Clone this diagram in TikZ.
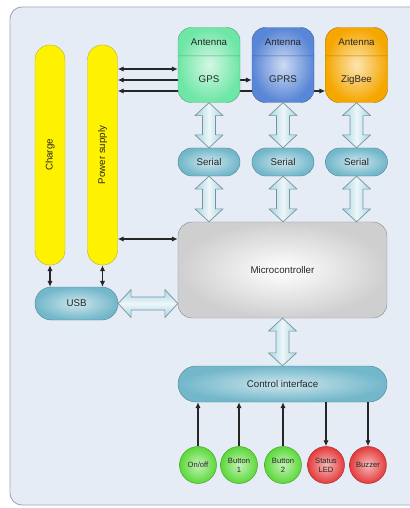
\documentclass[tikz,border=0pt]{standalone}
\usepackage{fontspec}
\setmainfont{Liberation Sans}
\usepackage{graphicx}
\usetikzlibrary{shapes.multipart,shapes.misc,arrows.meta,calc,backgrounds}

\definecolor{panelfill}{HTML}{E6ECF6}
\definecolor{paneldraw}{HTML}{A0A8B6}
\definecolor{gpsgreen}{HTML}{6EE6A6}
\definecolor{gprsblue}{HTML}{5986D6}
\definecolor{zigorange}{HTML}{F5A700}
\definecolor{pillblue}{HTML}{72B7CA}
\definecolor{mcugray}{HTML}{CFCFCF}
\definecolor{ledgreen}{HTML}{5AD838}
\definecolor{ledred}{HTML}{E43A3A}
\definecolor{fatedge}{HTML}{A6D4E2}

\newcommand{\antenna}{\rule[-9pt]{0pt}{23.9pt}Antenna}
\newcommand{\radioname}[1]{\rule[-16.7pt]{0pt}{39.3pt}#1}
\newcommand{\fatarrow}[3][vshade]{%
  \coordinate (fa-s) at (#2);
  \coordinate (fa-e) at (#3);
  \coordinate (fa-s1) at ($(fa-s)!11pt!(fa-e)$);
  \coordinate (fa-e1) at ($(fa-e)!11pt!(fa-s)$);
  \draw[hollow,#1] (fa-s) -- ($(fa-s1)!12pt!90:(fa-e)$) -- ($(fa-s1)!5.5pt!90:(fa-e)$)
    -- ($(fa-e1)!5.5pt!-90:(fa-s)$) -- ($(fa-e1)!12pt!-90:(fa-s)$) -- (fa-e)
    -- ($(fa-e1)!12pt!90:(fa-s)$) -- ($(fa-e1)!5.5pt!90:(fa-s)$)
    -- ($(fa-s1)!5.5pt!-90:(fa-e)$) -- ($(fa-s1)!12pt!-90:(fa-e)$) -- cycle;}

\tikzset{
  every node/.style={font=\fontsize{8.3}{10}\selectfont, text=black!85},
  panel/.style={draw=paneldraw, fill=panelfill, rounded corners=0.36cm, line width=0.8pt},
  rail/.style={draw=yellow!70!black, fill=yellow, rounded corners=0.44cm,
    minimum width=0.9cm, minimum height=6.6cm, inner sep=0pt},
  radio/.style={rectangle split, rectangle split parts=2, draw=#1!75!black,
    rounded corners=0.4cm, minimum width=1.86cm, inner xsep=2pt, inner ysep=0pt,
    inner color=#1!30!white, outer color=#1},
  pill/.style={rounded rectangle, draw=pillblue!75!black, inner color=pillblue!35!white,
    outer color=pillblue, inner sep=0pt, minimum height=#1},
  mcubox/.style={draw=mcugray!70!black, inner color=white, outer color=mcugray,
    rounded corners=0.42cm, minimum width=6.27cm, minimum height=2.88cm},
  led/.style={circle, draw=#1!75!black, inner color=#1!35!white, outer color=#1,
    minimum size=1.11cm, inner sep=0pt, align=center, font=\fontsize{6.5}{7.5}\selectfont},
  link/.style={{Latex[length=5pt,width=4.5pt]}-{Latex[length=5pt,width=4.5pt]},
    line width=0.9pt, black!85},
  uplink/.style={-{Latex[length=5pt,width=4.5pt]}, line width=0.9pt, black!85},
  hollow/.style={draw=fatedge!70!black, line width=0.6pt, line join=round},
  vshade/.style={left color=fatedge, right color=fatedge, middle color=white!80!fatedge},
  hshade/.style={top color=fatedge, bottom color=fatedge, middle color=white!80!fatedge},
}

\begin{document}
\begin{tikzpicture}[x=0.03cm,y=-0.03cm]
  \useasboundingbox (0,0) rectangle (409,508);
  \node[rail] (charge) at (50,155) {\rotatebox{90}{Charge}};
  \node[rail] (ps) at (102.5,155) {\rotatebox{90}{Power supply}};
  \node[radio=gpsgreen] (gps) at (209,65) {\antenna\nodepart{two}\radioname{GPS}};
  \node[radio=gprsblue] (gprs) at (283,65) {\antenna\nodepart{two}\radioname{GPRS}};
  \node[radio=zigorange] (zigbee) at (356.5,65) {\antenna\nodepart{two}\radioname{ZigBee}};
  \node[pill=0.84cm, minimum width=1.86cm] (sergps) at (209,162) {Serial};
  \node[pill=0.84cm, minimum width=1.86cm] (sergprs) at (283,162) {Serial};
  \node[pill=0.84cm, minimum width=1.86cm] (serzig) at (356.5,162) {Serial};
  \node[mcubox] (mcu) at (282.5,270) {Microcontroller};
  \node[pill=0.99cm, minimum width=2.49cm] (usb) at (76.5,303.5) {USB};
  \node[pill=1.08cm, minimum width=6.27cm] (ctrl) at (282.5,384) {Control interface};
  \node[led=ledgreen] (onoff) at (198,465) {On/off};
  \node[led=ledgreen] (btna) at (239,465) {Button\\1};
  \node[led=ledgreen] (btnb) at (283,465) {Button\\2};
  \node[led=ledred] (status) at (326,465) {Status\\LED};
  \node[led=ledred] (buzzer) at (368,465) {Buzzer};

  \draw[link] (ps.east |- 0,69) -- (gps.west |- 0,69);
  \draw[link] (ps.east |- 0,239) -- (mcu.west |- 0,239);
  \draw[link] (charge) -- (charge |- usb.north);
  \draw[link] (ps) -- (ps |- usb.north);

  \fatarrow{gps.south}{sergps.north}
  \fatarrow{gprs.south}{sergprs.north}
  \fatarrow{zigbee.south}{serzig.north}
  \fatarrow{sergps.south}{sergps.south |- mcu.north}
  \fatarrow{sergprs.south}{sergprs.south |- mcu.north}
  \fatarrow{serzig.south}{serzig.south |- mcu.north}
  \fatarrow[hshade]{usb.east}{usb.east -| mcu.west}
  \fatarrow{mcu.south}{ctrl.north}

  \draw[uplink] (onoff) -- (onoff |- ctrl.south);
  \draw[uplink] (btna) -- (btna |- ctrl.south);
  \draw[uplink] (btnb) -- (btnb |- ctrl.south);
  \draw[uplink] (status |- ctrl.south) -- (status);
  \draw[uplink] (buzzer |- ctrl.south) -- (buzzer);

  \begin{scope}[on background layer]
    \draw[panel] (10,7) rectangle (425,505);
    \draw[link] (ps.east |- 0,80) -- (gprs.west |- 0,80);
    \draw[link] (ps.east |- 0,91) -- (zigbee.west |- 0,91);
  \end{scope}
\end{tikzpicture}
\end{document}
